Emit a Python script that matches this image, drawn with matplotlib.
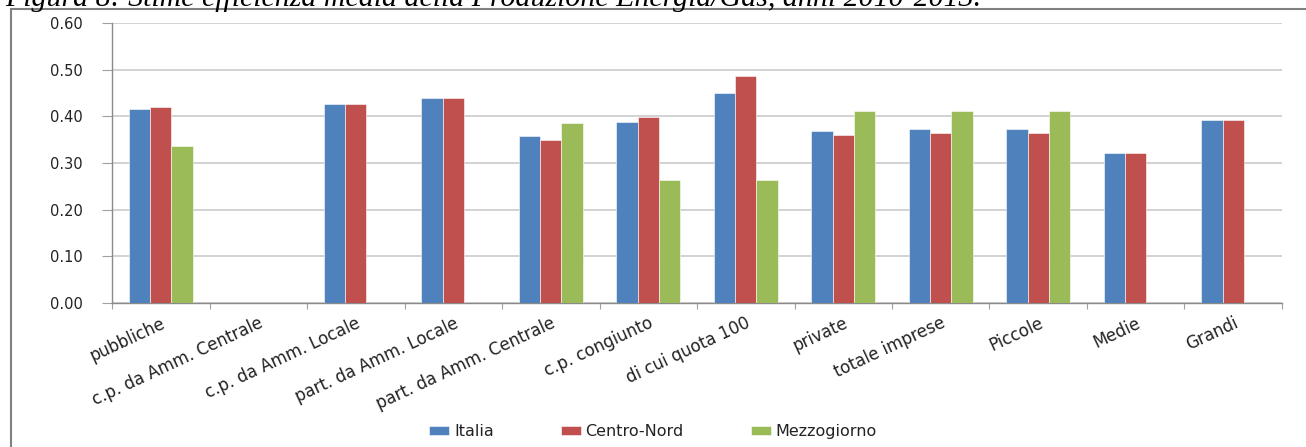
import numpy as np
import matplotlib
matplotlib.use('Agg')
import matplotlib.pyplot as plt
from matplotlib.patches import Rectangle

plt.rcParams['font.family'] = ['DejaVu Sans']

categories = ['pubbliche', 'c.p. da Amm. Centrale', 'c.p. da Amm. Locale',
              'part. da Amm. Locale', 'part. da Amm. Centrale', 'c.p. congiunto',
              'di cui quota 100', 'private', 'totale imprese', 'Piccole',
              'Medie', 'Grandi']
italia = [0.416, np.nan, 0.426, 0.439, 0.357, 0.387, 0.449, 0.368, 0.372, 0.372, 0.322, 0.392]
centro_nord = [0.419, np.nan, 0.426, 0.439, 0.350, 0.399, 0.487, 0.360, 0.365, 0.365, 0.322, 0.392]
mezzogiorno = [0.337, np.nan, np.nan, np.nan, 0.386, 0.264, 0.264, 0.412, 0.411, 0.411, np.nan, np.nan]
series_names = ['Italia', 'Centro-Nord', 'Mezzogiorno']
colors = ['#4F81BD', '#C0504D', '#9BBB59']
yticks = [0.0, 0.1, 0.2, 0.3, 0.4, 0.5, 0.6]

fig = plt.figure(figsize=(13.06, 4.47), dpi=100)
ax = fig.add_axes([0.0858, 0.3221, 0.8958, 0.6264])

x = np.arange(len(categories))
w = 0.218
for i, (vals, name, c) in enumerate(zip([italia, centro_nord, mezzogiorno], series_names, colors)):
    ax.bar(x + (i - 1) * w, vals, width=w, color=c, label=name, zorder=3,
           edgecolor='white', linewidth=0.4)

ax.set_xlim(-0.5, len(categories) - 0.5)
ax.set_ylim(0, 0.6)
ax.set_yticks(yticks)
ax.set_yticklabels(['%.2f' % v for v in yticks], fontsize=10.5, color='#222222')
ax.yaxis.grid(True, color='#cfcfcf', linewidth=1.3, zorder=0)
ax.tick_params(axis='y', length=7, color='#a0a0a0', pad=14)

# category boundaries carry the tick marks, labels sit at the centres
ax.set_xticks(np.arange(len(categories) + 1) - 0.5)
ax.set_xticklabels([])
ax.tick_params(axis='x', which='major', length=4, color='#a0a0a0')
ax.set_xticks(x, minor=True)
ax.set_xticklabels(categories, minor=True, rotation=25, ha='right',
                   rotation_mode='anchor', fontsize=12, color='#222222')
ax.tick_params(axis='x', which='minor', length=0, pad=8)

for s in ['top', 'right']:
    ax.spines[s].set_visible(False)
for s in ['left', 'bottom']:
    ax.spines[s].set_color('#8a8a8a')
    ax.spines[s].set_linewidth(1.0)

leg = fig.legend(loc='center', bbox_to_anchor=(0.5, 0.034), ncol=3, frameon=False,
                 fontsize=11.5, handlelength=1.25, handleheight=0.42,
                 handletextpad=0.3, columnspacing=4.2)
for t in leg.get_texts():
    t.set_color('#222222')

# outer frame of the figure box
fig.add_artist(Rectangle((11 / 1306, -0.1), 1.2, 1.1 - 9 / 447,
                         transform=fig.transFigure, fill=False,
                         edgecolor='#808080', linewidth=1.5))

fig.text(0.004, 1 - 6 / 447,
         'Figura 8: Stime efficienza media della Produzione Energia/Gas, anni 2010-2013.',
         fontsize=21.5, family='Liberation Serif', style='italic', va='baseline')

fig.savefig('out.png', dpi=100)
